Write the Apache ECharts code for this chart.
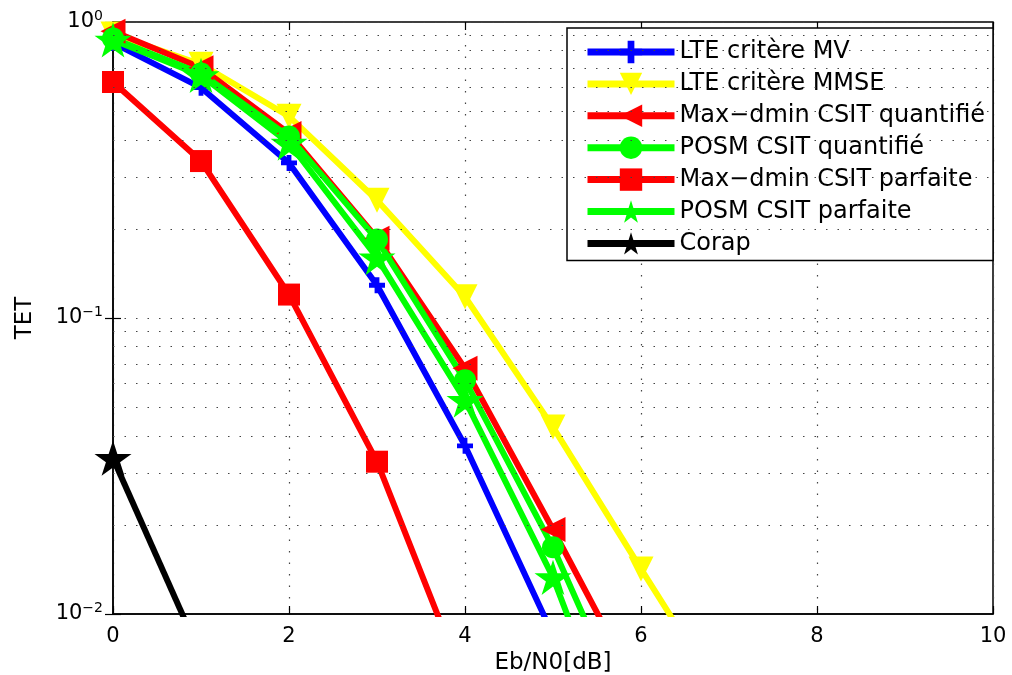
<!DOCTYPE html>
<html>
<head>
<meta charset="utf-8">
<script src="https://cdn.jsdelivr.net/npm/echarts@6/dist/echarts.min.js"></script>
<style>
  html, body { margin: 0; padding: 0; background: #fff; }
  #main { width: 1012px; height: 675px; }
</style>
</head>
<body>
<div id="main"></div>
<script>
// Eb/N0 en dB
var ebn0 = [0, 1, 2, 3, 4, 5, 6, 7];
// TET par courbe
var lteMV       = [0.85, 0.60, 0.334, 0.129, 0.037, 0.0085];
var lteMMSE     = [0.91, 0.72, 0.48, 0.25, 0.118, 0.0428, 0.0142, 0.0048];
var maxdminQuant = [0.93, 0.70, 0.42, 0.186, 0.0676, 0.0193, 0.0053];
var posmQuant   = [0.88, 0.67, 0.41, 0.184, 0.0616, 0.0168, 0.0036];
var maxdminParf = [0.627, 0.339, 0.12, 0.0327, 0.0058];
var posmParf    = [0.87, 0.66, 0.39, 0.16, 0.0528, 0.0133, 0.0022];
var corap       = [0.0336, 0.0072];
var names = ['LTE critère MV', 'LTE critère MMSE', 'Max\u2212dmin CSIT quantifié', 'POSM CSIT quantifié',
             'Max\u2212dmin CSIT parfaite', 'POSM CSIT parfaite', 'Corap'];
// lignes de grille mineures (2..9 par décade)
var minorGrid = [];
[0.01, 0.1].forEach(function (d) {
  for (var k = 2; k <= 9; k++) minorGrid.push(+(k * d).toPrecision(3));
});

var STAR = 'path://M50,0 L61.2,34.5 L97.6,34.5 L68.2,55.9 L79.4,90.5 L50,69.1 L20.6,90.5 L31.8,55.9 L2.4,34.5 L38.8,34.5 Z';
var PLUS = 'path://M3.5,0 H6.5 V3.5 H10 V6.5 H6.5 V10 H3.5 V6.5 H0 V3.5 H3.5 Z';
var FONT = 'DejaVu Sans';

function pairs(arr) {
  return arr.map(function (v, i) { return [ebn0[i], v]; });
}
function mkSeries(name, arr, color, symbol, size, rot) {
  return {
    name: name, type: 'line', data: pairs(arr), clip: true,
    symbol: symbol, symbolSize: size, symbolRotate: rot || 0, symbolKeepAspect: true,
    showAllSymbol: true,
    lineStyle: { color: color, width: 6 },
    itemStyle: { color: color, borderWidth: 0 },
    z: 3, animation: false
  };
}

var supMap = { '0': '0', '-1': '\u22121', '-2': '\u22122' };
var series = [
  {
    name: 'grid', type: 'line', data: [], silent: true, z: 1,
    markLine: {
      silent: true, symbol: ['none', 'none'], animation: false,
      label: { show: false },
      lineStyle: { color: '#444', width: 1.2, type: [1.5, 10] },
      data: minorGrid.map(function (v) { return { yAxis: v }; })
    }
  },
  mkSeries(names[0], lteMV, '#0000ff', PLUS, 16),
  mkSeries(names[1], lteMMSE, '#ffff00', 'triangle', 25, 180),
  mkSeries(names[2], maxdminQuant, '#ff0000', 'triangle', 25, 90),
  mkSeries(names[3], posmQuant, '#00ff00', 'circle', 22),
  mkSeries(names[4], maxdminParf, '#ff0000', 'rect', 22),
  mkSeries(names[5], posmParf, '#00ff00', STAR, 37),
  mkSeries(names[6], corap, '#000000', STAR, 37)
];

var chart = echarts.init(document.getElementById('main'), null, { renderer: 'canvas' });
chart.setOption({
  backgroundColor: '#fff',
  animation: false,
  grid: {
    left: 113, right: 19, top: 22, bottom: 61, outerBoundsMode: 'none', containLabel: false,
    show: true, borderColor: '#000', borderWidth: 1.5, backgroundColor: 'transparent'
  },
  legend: {
    data: names, orient: 'vertical', left: 567, top: 28,
    itemWidth: 87, itemHeight: 28, itemGap: 5.9,
    padding: [11, 8, 4, 17],
    backgroundColor: '#fff', borderColor: '#000', borderWidth: 1.5,
    lineStyle: { width: 7 },
    textStyle: { fontFamily: FONT, fontSize: 24, color: '#000', lineHeight: 26 },
    selectedMode: false
  },
  xAxis: [{
    type: 'value', min: 0, max: 10, interval: 2,
    name: 'Eb/N0[dB]', nameLocation: 'middle', nameGap: 34,
    nameTextStyle: { fontFamily: FONT, fontSize: 23, color: '#000' },
    axisLine: { show: true, onZero: false, lineStyle: { color: '#000', width: 1.5 } },
    axisTick: { show: true, inside: true, length: 8, lineStyle: { color: '#000', width: 1.2 } },
    axisLabel: { fontFamily: FONT, fontSize: 21, color: '#000', margin: 12 },
    splitLine: { show: true, lineStyle: { color: '#444', width: 1.2, type: [1.5, 10] } }
  }, {
    type: 'value', min: 0, max: 10, interval: 2, position: 'top',
    axisLine: { show: false },
    axisTick: { show: true, inside: true, length: 8, lineStyle: { color: '#000', width: 1.2 } },
    axisLabel: { show: false }, splitLine: { show: false }
  }],
  yAxis: [{
    type: 'log', min: 0.01, max: 1, logBase: 10,
    name: 'TET', nameLocation: 'middle', nameGap: 76,
    nameTextStyle: { fontFamily: FONT, fontSize: 23, color: '#000' },
    axisLine: { show: true, lineStyle: { color: '#000', width: 1.5 } },
    axisTick: { show: true, inside: true, length: 8, lineStyle: { color: '#000', width: 1.2 } },
    axisLabel: {
      margin: 10,
      formatter: function (v) {
        var e = Math.round(Math.log10(v));
        return '{b|10}{s|' + supMap[String(e)] + '}';
      },
      rich: {
        b: { fontFamily: FONT, fontSize: 21, color: '#000' },
        s: { fontFamily: FONT, fontSize: 14, color: '#000', padding: [0, 0, 12, 0] }
      }
    },
    splitLine: { show: true, lineStyle: { color: '#444', width: 1.2, type: [1.5, 10] } }
  }, {
    type: 'log', min: 0.01, max: 1, logBase: 10, position: 'right',
    axisLine: { show: false },
    axisTick: { show: true, inside: true, length: 8, lineStyle: { color: '#000', width: 1.2 } },
    axisLabel: { show: false }, splitLine: { show: false }
  }],
  series: series
});
</script>
</body>
</html>
